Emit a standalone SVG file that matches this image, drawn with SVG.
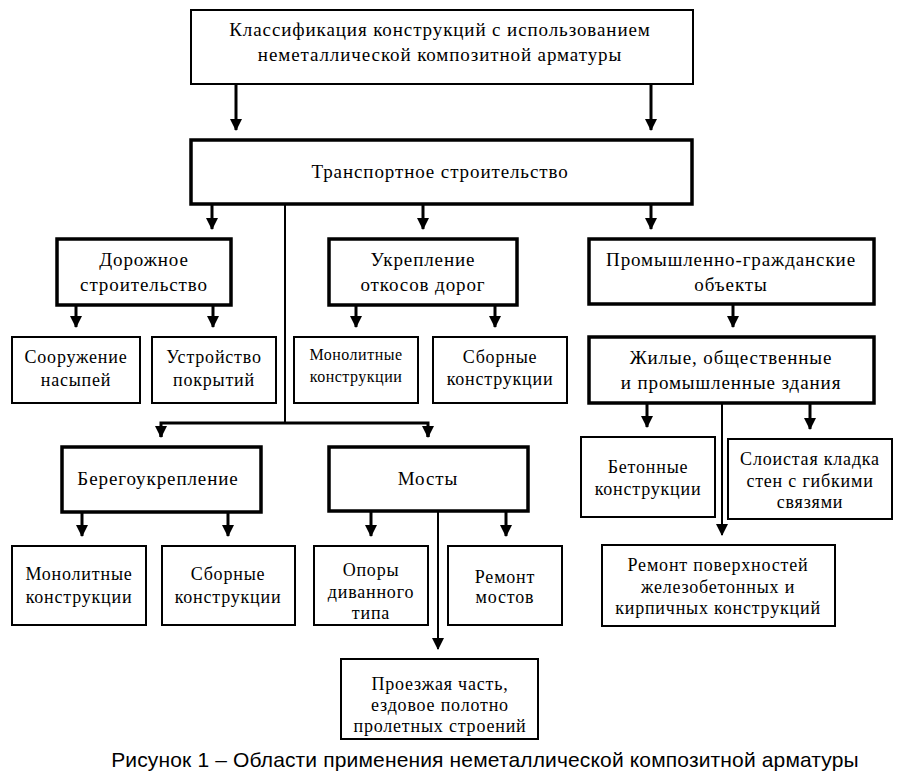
<svg xmlns="http://www.w3.org/2000/svg" width="899" height="775" viewBox="0 0 899 775">
<style>
.bx{fill:#fff;stroke:#000;stroke-width:2}
.bk{fill:#fff;stroke:#000;stroke-width:3.5}
text.t{font-family:'Liberation Serif','Times New Roman','DejaVu Serif',serif;font-size:18px;fill:#000;text-anchor:middle;letter-spacing:0.8px}
text.L{font-size:19px;letter-spacing:0.9px}
text.s{font-size:16px;letter-spacing:0.5px}
.c{stroke:#000;stroke-width:3;fill:none}
.n{stroke:#000;stroke-width:2;fill:none}
text.cap{font-family:'Liberation Sans',Arial,sans-serif;font-size:21px;letter-spacing:0.15px;fill:#000;text-anchor:middle}
</style>
<defs>
<marker id="a" markerUnits="userSpaceOnUse" markerWidth="12" markerHeight="12" viewBox="0 0 12 12" refX="6" refY="11" orient="0">
<path d="M0,0 L12,0 L6,12 Z" fill="#000"/>
</marker>
</defs>
<rect width="899" height="775" fill="#fff"/>
<g id="connectors">
<line class="c" x1="236" y1="84" x2="236" y2="130" marker-end="url(#a)"/>
<line class="c" x1="651" y1="84" x2="651" y2="130" marker-end="url(#a)"/>
<line class="c" x1="212" y1="204" x2="212" y2="229" marker-end="url(#a)"/>
<line class="c" x1="423" y1="204" x2="423" y2="229" marker-end="url(#a)"/>
<line class="c" x1="651" y1="204" x2="651" y2="229" marker-end="url(#a)"/>
<line class="n" x1="285" y1="204" x2="285" y2="423"/>
<polyline class="c" points="161,437 161,423 428,423 428,437"/>
<line class="c" x1="161" y1="430" x2="161" y2="437" marker-end="url(#a)"/>
<line class="c" x1="428" y1="430" x2="428" y2="437" marker-end="url(#a)"/>
<line class="c" x1="76" y1="305" x2="76" y2="327" marker-end="url(#a)"/>
<line class="c" x1="213" y1="305" x2="213" y2="327" marker-end="url(#a)"/>
<line class="c" x1="356" y1="305" x2="356" y2="327" marker-end="url(#a)"/>
<line class="c" x1="495" y1="305" x2="495" y2="327" marker-end="url(#a)"/>
<line class="c" x1="733" y1="304" x2="733" y2="327" marker-end="url(#a)"/>
<line class="c" x1="647" y1="403" x2="647" y2="427" marker-end="url(#a)"/>
<line class="c" x1="810" y1="403" x2="810" y2="429" marker-end="url(#a)"/>
<line class="n" x1="722" y1="403" x2="722" y2="535" marker-end="url(#a)"/>
<line class="c" x1="82" y1="512" x2="82" y2="536" marker-end="url(#a)"/>
<line class="c" x1="228" y1="512" x2="228" y2="536" marker-end="url(#a)"/>
<line class="c" x1="371" y1="511" x2="371" y2="536" marker-end="url(#a)"/>
<line class="c" x1="506" y1="511" x2="506" y2="536" marker-end="url(#a)"/>
<line class="n" x1="438" y1="511" x2="438" y2="649" marker-end="url(#a)"/>
</g>
<g id="n-top"><rect class="bx" x="191" y="10" width="502" height="74"/>
<text class="t L" x="440" y="36">Классификация конструкций с использованием</text>
<text class="t L" x="440" y="61">неметаллической композитной арматуры</text></g>
<g id="n-transport"><rect class="bk" x="191" y="140" width="501" height="64"/>
<text class="t L" x="440" y="178">Транспортное строительство</text></g>
<g id="n-road"><rect class="bk" x="57" y="239" width="174" height="66"/>
<text class="t L" x="144" y="266">Дорожное</text><text class="t L" x="144" y="291">строительство</text></g>
<g id="n-slope"><rect class="bk" x="329" y="239" width="188" height="66"/>
<text class="t L" x="423" y="266">Укрепление</text><text class="t L" x="423" y="291">откосов дорог</text></g>
<g id="n-industrial"><rect class="bk" x="589" y="239" width="285" height="65"/>
<text class="t L" x="731" y="266">Промышленно-гражданские</text><text class="t L" x="731" y="291">объекты</text></g>
<g id="n-embank"><rect class="bx" x="12" y="337" width="128" height="66"/>
<text class="t" x="76" y="363">Сооружение</text><text class="t" x="76" y="386">насыпей</text></g>
<g id="n-pave"><rect class="bx" x="152" y="337" width="124" height="66"/>
<text class="t" x="214" y="363">Устройство</text><text class="t" x="214" y="386">покрытий</text></g>
<g id="n-mono1"><rect class="bx" x="294" y="337" width="124" height="66"/>
<text class="t s" x="356" y="360">Монолитные</text><text class="t s" x="356" y="382">конструкции</text></g>
<g id="n-prefab1"><rect class="bx" x="433" y="337" width="134" height="66"/>
<text class="t" x="500" y="363">Сборные</text><text class="t" x="500" y="385">конструкции</text></g>
<g id="n-buildings"><rect class="bk" x="589" y="337" width="285" height="66"/>
<text class="t L" x="731" y="364">Жилые, общественные</text><text class="t L" x="731" y="389">и промышленные здания</text></g>
<g id="n-concrete"><rect class="bx" x="581" y="437" width="134" height="80"/>
<text class="t" x="648" y="473">Бетонные</text><text class="t" x="648" y="495">конструкции</text></g>
<g id="n-masonry"><rect class="bx" x="728" y="439" width="164" height="80" stroke-width="2.5"/>
<text class="t" x="810" y="465">Слоистая кладка</text><text class="t" x="810" y="487">стен  с гибкими</text><text class="t" x="810" y="508">связями</text></g>
<g id="n-shore"><rect class="bk" x="62" y="447" width="199" height="65"/>
<text class="t L" x="158" y="485">Берегоукрепление</text></g>
<g id="n-bridges"><rect class="bk" x="329" y="447" width="199" height="64"/>
<text class="t L" x="428" y="485">Мосты</text></g>
<g id="n-mono2"><rect class="bx" x="12" y="546" width="134" height="79"/>
<text class="t" x="79" y="580">Монолитные</text><text class="t" x="79" y="603">конструкции</text></g>
<g id="n-prefab2"><rect class="bx" x="162" y="546" width="133" height="79"/>
<text class="t" x="228" y="580">Сборные</text><text class="t" x="228" y="603">конструкции</text></g>
<g id="n-supports"><rect class="bx" x="314" y="546" width="114" height="79"/>
<text class="t" x="371" y="576">Опоры</text><text class="t" x="371" y="598">диванного</text><text class="t" x="371" y="619">типа</text></g>
<g id="n-repair-bridges"><rect class="bx" x="448" y="546" width="114" height="79"/>
<text class="t" x="505" y="583">Ремонт</text><text class="t" x="505" y="603">мостов</text></g>
<g id="n-repair-surf"><rect class="bx" x="602" y="545" width="233" height="81"/>
<text class="t" x="718" y="571">Ремонт поверхностей</text><text class="t" x="718" y="593">железобетонных и</text><text class="t" x="718" y="614">кирпичных конструкций</text></g>
<g id="n-deck"><rect class="bx" x="341" y="659" width="197" height="80"/>
<text class="t" x="440" y="690">Проезжая часть,</text><text class="t" x="440" y="711">ездовое полотно</text><text class="t" x="440" y="732">пролетных строений</text></g>
<text class="cap" x="485" y="767">Рисунок 1 – Области применения неметаллической композитной арматуры</text>
</svg>
